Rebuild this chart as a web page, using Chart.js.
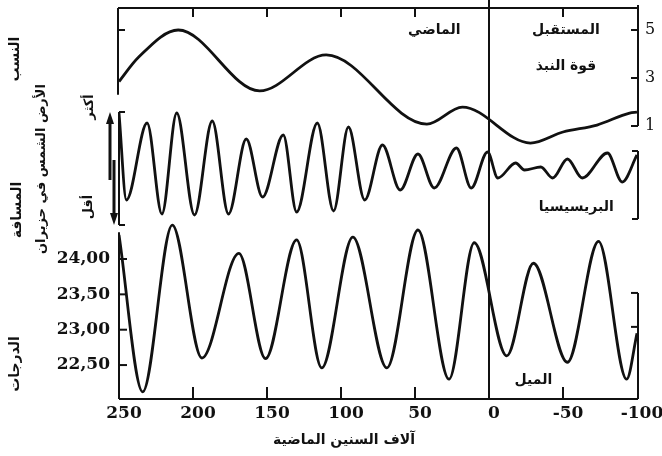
<!DOCTYPE html>
<html lang="ar">
<head>
<meta charset="UTF-8">
<title>الميل والبريسيسيا وقوة النبذ</title>
<script src="https://cdn.jsdelivr.net/npm/chart.js"></script>
<style>
  html, body { margin: 0; padding: 0; background: #fff; }
  #wrap { width: 662px; height: 456px; position: relative; }
</style>
</head>
<body>
<div id="wrap"><canvas id="chart"></canvas></div>

<script>
// آلاف السنين: موجب = الماضي، سالب = المستقبل
const xTicks = [250, 200, 150, 100, 50, 0, -50, -100];
const innerTicks = [200, 150, 100, 50, -50];

// قوة النبذ (الوحدات على اليمين)
const forceKyr = [250, 237, 210, 155, 110, 42, 18, -28, -50, -73, -95, -100];
const forceVal = [2.85, 3.85, 5.0, 2.46, 3.96, 1.08, 1.79, 0.29, 0.75, 1.04, 1.54, 1.58];
const forceTicks = [1, 3, 5];

// البريسيسيا (وحدات نسبية، أكثر / أقل)
const precKyr = [250, 245, 231, 221, 211, 199, 187, 176, 164, 153, 139, 130, 116, 105, 95, 84, 72, 60, 48, 37, 22, 12, 1, -6, -18, -24, -35, -43, -53, -63, -80, -90, -100];
const precVal = [1.04, -0.7, 0.84, -0.98, 1.04, -1.0, 0.88, -0.98, 0.52, -0.64, 0.6, -0.94, 0.84, -0.92, 0.76, -0.7, 0.4, -0.5, 0.22, -0.46, 0.34, -0.46, 0.26, -0.26, 0.04, -0.1, -0.04, -0.26, 0.12, -0.26, 0.24, -0.34, 0.2];

// الميل (درجات)
const tiltKyr = [250, 234, 214, 194, 169, 151, 130, 113, 92, 69, 48, 27, 10, -12, -30, -53, -74, -93, -100];
const tiltVal = [24.34, 22.12, 24.48, 22.6, 24.08, 22.59, 24.27, 22.46, 24.31, 22.46, 24.41, 22.3, 24.23, 22.63, 23.94, 22.54, 24.25, 22.3, 22.95];
const tiltTicks = [22.5, 23, 23.5, 24];

const pts = (xs, ys) => xs.map((v, i) => ({ x: v, y: ys[i] }));
const ink = '#111';

const lineStyle = {
  borderColor: ink,
  borderWidth: 2.8,
  pointRadius: 0,
  fill: false,
  cubicInterpolationMode: 'monotone'
};

// keep the plot box exactly where the axes ask for it
const noPad = s => { s.paddingTop = 0; s.paddingBottom = 0; s.paddingLeft = 0; s.paddingRight = 0; };

const frame = {
  id: 'frame',
  afterDatasetsDraw(chart) {
    const { ctx, chartArea: a, scales } = chart;
    const { x, tilt, force, prec } = scales;
    const xl = x.getPixelForValue(250), xr = x.getPixelForValue(-100), x0 = x.getPixelForValue(0);
    const line = (x1, y1, x2, y2) => { ctx.beginPath(); ctx.moveTo(x1, y1); ctx.lineTo(x2, y2); ctx.stroke(); };

    ctx.save();
    ctx.strokeStyle = ink;
    ctx.fillStyle = ink;
    ctx.lineWidth = 2;

    // اللوحة العليا
    line(xl - 1, a.top, xr + 1, a.top);
    innerTicks.forEach(v => line(x.getPixelForValue(v), a.top, x.getPixelForValue(v), a.top + 9));
    line(xl - 1, a.top, xl - 1, force.getPixelForValue(2.3));
    line(xl - 1, force.getPixelForValue(5), xl + 6, force.getPixelForValue(5));
    line(xr + 1, a.top - 3, xr + 1, force.getPixelForValue(1));
    forceTicks.forEach(v => line(xr + 1, force.getPixelForValue(v), xr - 6, force.getPixelForValue(v)));

    // خط الحاضر
    line(x0, 0, x0, a.bottom);

    // اللوحة الوسطى
    const pTop = prec.getPixelForValue(1.06), pBot = prec.getPixelForValue(-1.2);
    line(xl, pTop, xl, pBot);
    line(xl, pTop, xl + 6, pTop);
    line(xl, pBot, xl + 6, pBot);
    const rTop = prec.getPixelForValue(0.28), rBot = prec.getPixelForValue(-1.08);
    line(xr + 1, rTop, xr + 1, rBot);
    line(xr + 1, rTop, xr - 5, rTop);
    line(xr + 1, rBot, xr - 5, rBot);

    // الأسهم
    ctx.lineWidth = 3;
    const upX = xl - 9, dnX = xl - 5;
    const mid = prec.getPixelForValue(-0.3);
    line(upX, mid, upX, pTop + 8);
    ctx.beginPath(); ctx.moveTo(upX, pTop); ctx.lineTo(upX - 4, pTop + 12); ctx.lineTo(upX + 4, pTop + 12); ctx.closePath(); ctx.fill();
    line(dnX, prec.getPixelForValue(0.1), dnX, pBot - 8);
    ctx.beginPath(); ctx.moveTo(dnX, pBot); ctx.lineTo(dnX - 4, pBot - 12); ctx.lineTo(dnX + 4, pBot - 12); ctx.closePath(); ctx.fill();
    ctx.lineWidth = 2;

    // اللوحة السفلى
    line(xl, tilt.getPixelForValue(24.38), xl, a.bottom);
    tiltTicks.forEach(v => line(xl, tilt.getPixelForValue(v), xl + 8, tilt.getPixelForValue(v)));
    line(xl, a.bottom, xr + 1, a.bottom);
    innerTicks.forEach(v => line(x.getPixelForValue(v), a.bottom, x.getPixelForValue(v), a.bottom - 12));
    line(xr + 1, tilt.getPixelForValue(23.52), xr + 1, a.bottom);
    [23.52, 23.04].forEach(v => line(xr + 1, tilt.getPixelForValue(v), xr - 6, tilt.getPixelForValue(v)));

    // النصوص داخل الرسم
    ctx.direction = 'rtl';
    ctx.textAlign = 'center';
    ctx.textBaseline = 'middle';
    ctx.font = 'bold 14px "DejaVu Sans"';
    const note = (t, kyr, scale, v) => ctx.fillText(t, x.getPixelForValue(kyr), scale.getPixelForValue(v));
    note('الماضي', 37, force, 5.0);
    note('المستقبل', -52, force, 5.0);
    note('قوة النبذ', -52, force, 3.5);
    note('البريسيسيا', -59, prec, -0.84);
    note('الميل', -30, tilt, 22.29);

    // عنوان المحور الأفقي
    ctx.fillText('آلاف السنين الماضية', 344, 440);

    // العناوين العمودية على اليسار
    const vtext = (t, cx, cy, size) => {
      ctx.save();
      ctx.translate(cx, cy);
      ctx.rotate(-Math.PI / 2);
      ctx.font = 'bold ' + size + 'px "DejaVu Sans"';
      ctx.fillText(t, 0, 0);
      ctx.restore();
    };
    vtext('النسب', 15, 59, 14);
    vtext('المسافة', 17, 210, 14);
    vtext('الأرض الشمس في حزيران', 42, 169, 13);
    vtext('أكثر', 90, 107, 13);
    vtext('أقل', 89, 207, 13);
    vtext('الدرجات', 15, 364, 14);

    ctx.restore();
  }
};

new Chart(document.getElementById('chart'), {
  type: 'line',
  data: {
    datasets: [
      { label: 'قوة النبذ', data: pts(forceKyr, forceVal), yAxisID: 'force', ...lineStyle },
      { label: 'البريسيسيا', data: pts(precKyr, precVal), yAxisID: 'prec', ...lineStyle },
      { label: 'الميل', data: pts(tiltKyr, tiltVal), yAxisID: 'tilt', ...lineStyle }
    ]
  },
  options: {
    responsive: true,
    maintainAspectRatio: false,
    animation: false,
    layout: { padding: { top: 8, left: 0, right: 0, bottom: 0 } },
    plugins: { legend: { display: false }, tooltip: { enabled: false } },
    scales: {
      x: {
        type: 'linear',
        reverse: true,
        min: -100,
        max: 250,
        afterBuildTicks: s => { s.ticks = xTicks.map(v => ({ value: v })); },
        afterFit: s => { s.height = 57; noPad(s); },
        grid: { display: false, drawTicks: false },
        border: { display: false },
        ticks: {
          padding: 4,
          labelOffset: 5,
          color: ink,
          maxRotation: 0,
          font: { family: 'DejaVu Serif', weight: 'bold', size: 17 },
          callback: v => String(v)
        }
      },
      tilt: {
        position: 'left',
        min: 22.02,
        max: 27.55,
        afterBuildTicks: s => { s.ticks = tiltTicks.map(v => ({ value: v })); },
        afterFit: s => { s.width = 119; noPad(s); },
        grid: { display: false, drawTicks: false },
        border: { display: false },
        ticks: {
          padding: 9,
          color: ink,
          font: { family: 'DejaVu Serif', weight: 'bold', size: 17 },
          callback: v => v.toFixed(2).replace('.', ',')
        }
      },
      force: {
        position: 'right',
        min: -10.375,
        max: 5.917,
        afterBuildTicks: s => { s.ticks = forceTicks.map(v => ({ value: v })); },
        afterFit: s => { s.width = 25; noPad(s); },
        grid: { display: false, drawTicks: false },
        border: { display: false },
        ticks: {
          padding: 8,
          color: ink,
          font: { family: 'DejaVu Serif', size: 16 }
        }
      },
      prec: {
        display: false,
        min: -4.68,
        max: 3.14
      }
    }
  },
  plugins: [frame]
});
</script>
</body>
</html>
